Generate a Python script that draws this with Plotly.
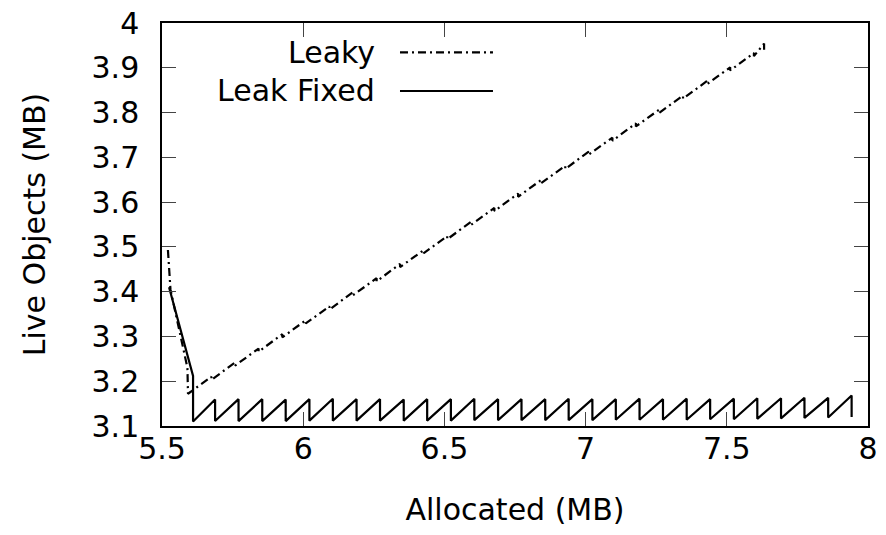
import plotly.graph_objects as go

# ---- Leak Fixed: warm-up descent, then one sawtooth per GC cycle ----
fixed_start_x = [5.525, 5.610]
fixed_start_y = [3.410, 3.212]
fixed_first_post = 3.110

fixed_gc_x = [5.688, 5.771, 5.855, 5.938, 6.022, 6.105, 6.189, 6.272, 6.356, 6.439,
              6.523, 6.606, 6.690, 6.773, 6.857, 6.940, 7.024, 7.107, 7.191, 7.274,
              7.358, 7.441, 7.525, 7.608, 7.692, 7.775, 7.859, 7.942]
fixed_pre_gc = [3.159, 3.160, 3.160, 3.159, 3.160, 3.161, 3.160, 3.160, 3.159, 3.160,
                3.160, 3.161, 3.160, 3.160, 3.160, 3.161, 3.160, 3.160, 3.161, 3.160,
                3.161, 3.160, 3.161, 3.162, 3.162, 3.163, 3.163, 3.168]
fixed_post_gc = [3.111, 3.111, 3.111, 3.111, 3.112, 3.112, 3.112, 3.112, 3.112, 3.112,
                 3.112, 3.113, 3.113, 3.113, 3.113, 3.113, 3.113, 3.114, 3.114, 3.114,
                 3.114, 3.115, 3.115, 3.116, 3.117, 3.118, 3.119, 3.120]

# ---- Leaky: same start, then live set keeps growing across GC cycles ----
leaky_start_x = [5.521, 5.530, 5.590, 5.592]
leaky_start_y = [3.493, 3.405, 3.230, 3.172]

leaky_gc_x = [5.675, 5.759, 5.842, 5.926, 6.009, 6.093, 6.176, 6.260, 6.343, 6.427,
              6.510, 6.594, 6.677, 6.761, 6.844, 6.928, 7.011, 7.095, 7.178, 7.262,
              7.345, 7.429, 7.512, 7.596]
leaky_pre_gc = [3.210, 3.242, 3.273, 3.305, 3.336, 3.367, 3.399, 3.430, 3.462, 3.493,
                3.524, 3.556, 3.587, 3.619, 3.650, 3.681, 3.713, 3.744, 3.776, 3.807,
                3.838, 3.870, 3.901, 3.933]
leaky_post_gc = [3.203, 3.235, 3.266, 3.298, 3.329, 3.360, 3.392, 3.423, 3.455, 3.486,
                 3.517, 3.549, 3.580, 3.612, 3.643, 3.674, 3.706, 3.737, 3.769, 3.800,
                 3.831, 3.863, 3.894, 3.926]
leaky_end_x = [7.632, 7.632]
leaky_end_y = [3.954, 3.940]

x_ticks = [5.5, 6, 6.5, 7, 7.5, 8]
y_ticks = [3.1, 3.2, 3.3, 3.4, 3.5, 3.6, 3.7, 3.8, 3.9, 4.0]


def sawtooth(start_x, start_y, gc_x, pre, post, first_post=None):
    xs, ys = list(start_x), list(start_y)
    if first_post is not None:
        xs.append(start_x[-1])
        ys.append(first_post)
    for gx, a, b in zip(gc_x, pre, post):
        xs += [gx, gx]
        ys += [a, b]
    return xs, ys


fx, fy = sawtooth(fixed_start_x, fixed_start_y, fixed_gc_x, fixed_pre_gc,
                  fixed_post_gc, fixed_first_post)
lx, ly = sawtooth(leaky_start_x, leaky_start_y, leaky_gc_x, leaky_pre_gc,
                  leaky_post_gc)
lx += leaky_end_x
ly += leaky_end_y

DASHDOT = "8px,4px,2px,4px"
FONT = "DejaVu Sans"
FS = 30

fig = go.Figure()
fig.add_trace(go.Scatter(x=lx, y=ly, mode="lines", name="Leaky",
                         line=dict(color="black", width=2.2, dash=DASHDOT)))
fig.add_trace(go.Scatter(x=fx, y=fy, mode="lines", name="Leak Fixed",
                         line=dict(color="black", width=2.2)))

axis_common = dict(
    showgrid=False, zeroline=False,
    showline=True, linecolor="black", linewidth=1.5, mirror="ticks",
    ticks="inside", ticklen=14, tickwidth=1, tickcolor="#444",
    tickfont=dict(family=FONT, size=FS, color="black"),
)

fig.update_xaxes(range=[5.5, 8.0], tickvals=x_ticks,
                 ticktext=[f"{v:g}" for v in x_ticks],
                 title=dict(text="Allocated (MB)", standoff=34,
                            font=dict(family=FONT, size=FS, color="black")),
                 ticklabelstandoff=-5, **axis_common)
fig.update_yaxes(range=[3.1, 4.0], tickvals=y_ticks,
                 ticktext=[f"{v:g}" for v in y_ticks],
                 title=dict(text="Live Objects (MB)", standoff=37,
                            font=dict(family=FONT, size=FS, color="black")),
                 ticklabelstandoff=15, **axis_common)

# Key in the upper-left of the plot: right-aligned labels, samples to the right
key_rows = [("Leaky", 0.927, DASHDOT), ("Leak Fixed", 0.8313, "solid")]
for label, ky, dash in key_rows:
    fig.add_annotation(x=0.3045, y=ky, xref="paper", yref="paper",
                       text=label, showarrow=False, xanchor="right",
                       yanchor="middle",
                       font=dict(family=FONT, size=FS, color="black"))
    fig.add_shape(type="line", xref="paper", yref="paper",
                  x0=0.3371, x1=0.4688, y0=ky, y1=ky,
                  line=dict(color="black", width=2.2, dash=dash))

fig.update_layout(
    width=886, height=535,
    margin=dict(l=162, r=18, t=23, b=109, autoexpand=False),
    paper_bgcolor="white", plot_bgcolor="white",
    showlegend=False,
    font=dict(family=FONT, size=FS, color="black"),
)

fig.write_html("out.html")
